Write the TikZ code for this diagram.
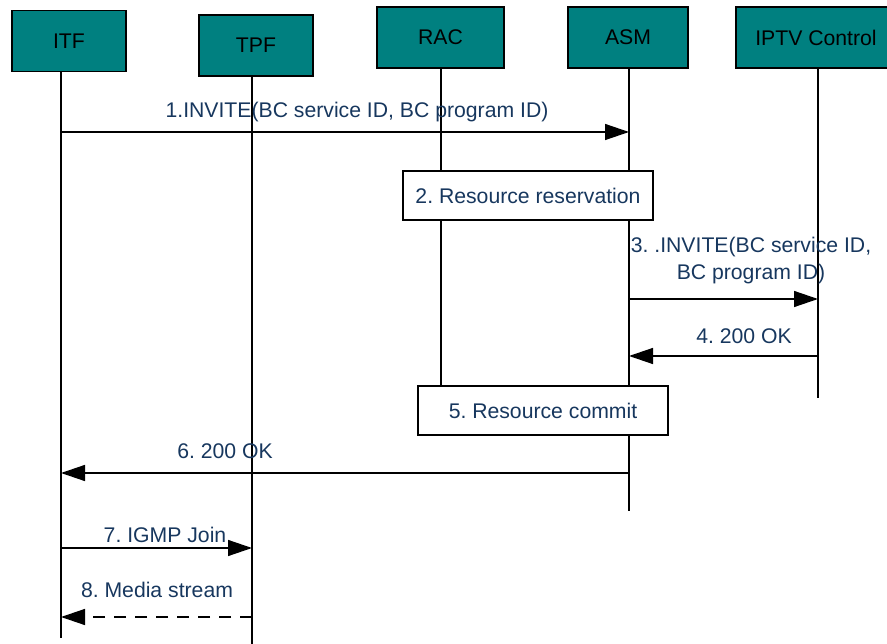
\documentclass[tikz,border=0pt]{standalone}
\usepackage{fontspec}
\setmainfont{Liberation Sans}
\usepackage{tikz}
\usetikzlibrary{arrows.meta}
\definecolor{boxteal}{RGB}{0,128,128}
\definecolor{msgblue}{RGB}{23,55,94}
\frenchspacing

\begin{document}
\begin{tikzpicture}[x=1pt,y=-1pt,
    every node/.style={font=\fontsize{21.2}{27}\selectfont},
    entity/.style={draw,fill=boxteal,line width=1.2pt,minimum height=61pt},
    action/.style={draw,fill=white,line width=1.2pt,text=msgblue,minimum width=250pt,minimum height=49pt},
    life/.style={line width=1.2pt},
    msg/.style={line width=1.4pt,-{Triangle[length=24pt,width=16pt]}},
    lbl/.style={text=msgblue,anchor=base,inner sep=0pt}]
    \useasboundingbox (0,0) rectangle (887,644);

    % entities
    \node[entity,minimum width=114pt] (itf) at (69,41) {ITF};
    \node[entity,minimum width=114pt] (tpf) at (256,45.5) {TPF};
    \node[entity,minimum width=127pt] (rac) at (440.5,37.5) {RAC};
    \node[entity,minimum width=120pt] (asm) at (628,37.5) {ASM};
    \node[entity,minimum width=160pt] (iptv) at (816,37.5) {IPTV Control};

    % lifelines
    \coordinate (itf-end) at (61,638);
    \coordinate (tpf-end) at (252,644);
    \coordinate (rac-end) at (441,386);
    \coordinate (asm-end) at (629,511);
    \coordinate (iptv-end) at (818,398);
    \draw[life] (itf.south -| itf-end) -- (itf-end);
    \draw[life] (tpf.south -| tpf-end) -- (tpf-end);
    \draw[life] (rac.south -| rac-end) -- (rac-end);
    \draw[life] (asm.south -| asm-end) -- (asm-end);
    \draw[life] (iptv.south -| iptv-end) -- (iptv-end);

    % local actions
    \node[action] (resv) at (528,195.5) {2. Resource reservation};
    \node[action] (commit) at (543,410.5) {5. Resource commit};

    % messages
    \draw[msg] (itf-end |- 0,132) -- (asm-end |- 0,132);
    \node[lbl] (l1) at (357,118) {1.INVITE(BC service ID, BC program ID)};
    \draw[msg] (asm-end |- 0,299) -- (iptv-end |- 0,299);
    \node[lbl,anchor=center,align=center] (l3) at (751,261) {3. .INVITE(BC service ID,\\BC program ID)};
    \draw[msg] (iptv-end |- 0,356) -- (asm-end |- 0,356);
    \node[lbl] (l4) at (744,344) {4. 200 OK};
    \draw[msg] (asm-end |- 0,473) -- (itf-end |- 0,473);
    \node[lbl] (l6) at (225,458) {6. 200 OK};
    \draw[msg] (itf-end |- 0,548) -- (tpf-end |- 0,548);
    \node[lbl] (l7) at (165,542) {7. IGMP Join};
    \draw[msg,dash pattern=on 12pt off 9pt] (tpf-end |- 0,617) -- (itf-end |- 0,617);
    \node[lbl] (l8) at (157,597) {8. Media stream};
\end{tikzpicture}
\end{document}
